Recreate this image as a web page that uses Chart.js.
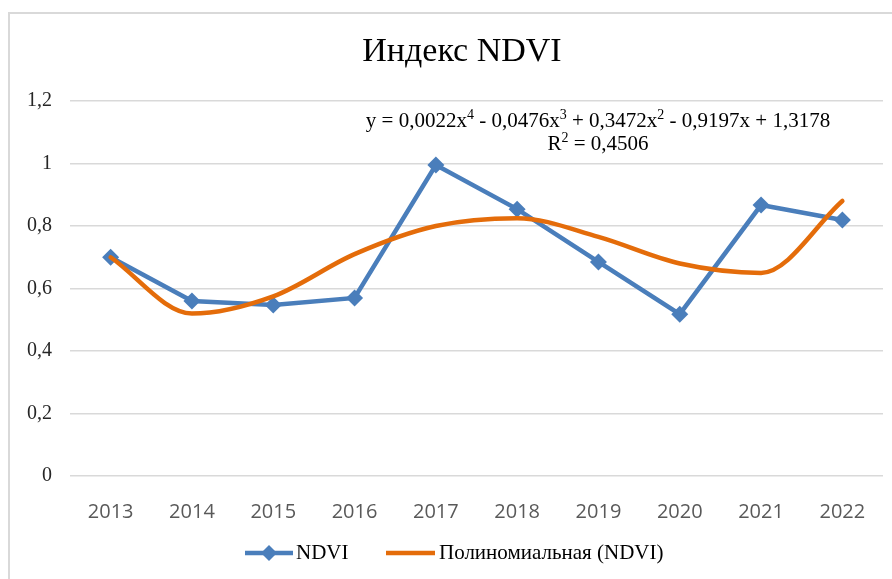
<!DOCTYPE html>
<html>
<head>
<meta charset="utf-8">
<script src="https://cdn.jsdelivr.net/npm/chart.js@4/dist/chart.umd.min.js"></script>
<style>
  html, body { margin: 0; padding: 0; background: #fff; }
  #wrap { position: relative; width: 892px; height: 579px; }
</style>
</head>
<body>
<div id="wrap"><canvas id="chart" width="892" height="579"></canvas></div>
<script>
'use strict';

// ── Data ──────────────────────────────────────────────────────
const years     = ['2013', '2014', '2015', '2016', '2017', '2018', '2019', '2020', '2021', '2022'];
const ndvi      = [0.70, 0.56, 0.547, 0.57, 0.995, 0.854, 0.685, 0.518, 0.867, 0.819];
const trendNdvi = [0.70, 0.52, 0.575, 0.71, 0.80, 0.825, 0.765, 0.68, 0.65, 0.88];
const yTicks    = [0, 0.2, 0.4, 0.6, 0.8, 1, 1.2];

const titleText = 'Индекс NDVI';
// equation pieces: [text, isSuperscript]
const eqLine1 = [['y = 0,0022x', 0], ['4', 1], [' - 0,0476x', 0], ['3', 1],
                 [' + 0,3472x', 0], ['2', 1], [' - 0,9197x + 1,3178', 0]];
const eqLine2 = [['R', 0], ['2', 1], [' = 0,4506', 0]];
const legendNames = ['NDVI', 'Полиномиальная (NDVI)'];

const BLUE   = '#4a7ebb';
const ORANGE = '#e46c0a';
const GRID   = '#d9d9d9';
const SERIF  = "'Liberation Serif', 'Times New Roman', serif";

// ── Rich text with superscripts, centred on cx ────────────────
function drawRich(ctx, parts, cx, y, size) {
  const big = size + 'px ' + SERIF;
  const small = Math.round(size * 0.65) + 'px ' + SERIF;
  let total = 0;
  parts.forEach(([t, sup]) => { ctx.font = sup ? small : big; total += ctx.measureText(t).width; });
  let x = cx - total / 2;
  ctx.textAlign = 'left';
  ctx.textBaseline = 'alphabetic';
  parts.forEach(([t, sup]) => {
    ctx.font = sup ? small : big;
    ctx.fillText(t, x, sup ? y - size * 0.38 : y);
    x += ctx.measureText(t).width;
  });
}

// ── Decorations: frame, title, equation, legend ───────────────
const decor = {
  id: 'decor',
  beforeDraw(chart) {
    const ctx = chart.ctx;
    ctx.save();
    ctx.strokeStyle = GRID;
    ctx.lineWidth = 2;
    ctx.beginPath();
    ctx.moveTo(9, 600);
    ctx.lineTo(9, 13);
    ctx.lineTo(900, 13);
    ctx.stroke();
    ctx.restore();
  },
  afterDraw(chart) {
    const ctx = chart.ctx;
    ctx.save();
    ctx.fillStyle = '#000';
    ctx.textAlign = 'center';
    ctx.textBaseline = 'middle';

    ctx.font = '34px ' + SERIF;
    ctx.fillText(titleText, 462, 52);

    drawRich(ctx, eqLine1, 598, 127, 21);
    drawRich(ctx, eqLine2, 598, 150, 21);

    // legend
    const ly = 553;
    ctx.lineWidth = 4.5;
    ctx.strokeStyle = BLUE;
    ctx.beginPath(); ctx.moveTo(245, ly); ctx.lineTo(293, ly); ctx.stroke();
    ctx.fillStyle = BLUE;
    ctx.beginPath();
    ctx.moveTo(269, ly - 8); ctx.lineTo(277, ly); ctx.lineTo(269, ly + 8); ctx.lineTo(261, ly);
    ctx.closePath(); ctx.fill();
    ctx.strokeStyle = ORANGE;
    ctx.lineWidth = 4.5;
    ctx.beginPath(); ctx.moveTo(386, ly); ctx.lineTo(435, ly); ctx.stroke();

    ctx.fillStyle = '#000';
    ctx.textAlign = 'left';
    ctx.textBaseline = 'middle';
    ctx.font = '21px ' + SERIF;
    ctx.fillText(legendNames[0], 296, ly);
    ctx.fillText(legendNames[1], 439, ly);
    ctx.restore();
  }
};

new Chart(document.getElementById('chart'), {
  type: 'line',
  data: {
    labels: years,
    datasets: [
      {
        label: legendNames[0],
        data: ndvi,
        borderColor: BLUE,
        backgroundColor: BLUE,
        borderWidth: 4.5,
        pointStyle: 'rectRot',
        pointRadius: 8.5,
        pointBorderWidth: 0,
        tension: 0,
        order: 2
      },
      {
        label: legendNames[1],
        data: trendNdvi,
        borderColor: ORANGE,
        backgroundColor: ORANGE,
        borderWidth: 4.5,
        pointRadius: 0,
        cubicInterpolationMode: 'monotone',
        borderCapStyle: 'round',
        order: 1
      }
    ]
  },
  options: {
    responsive: false,
    animation: false,
    layout: { padding: { top: 101, right: 9, bottom: 43, left: 0 } },
    plugins: {
      legend: { display: false },
      title: { display: false },
      tooltip: { enabled: false }
    },
    scales: {
      x: {
        offset: true,
        grid: { display: false },
        border: { display: false },
        ticks: {
          padding: 16,
          color: '#595959',
          font: { family: "'Open Sans', 'Liberation Sans', sans-serif", size: 20 }
        },
        afterFit(scale) { scale.height = 60; }
      },
      y: {
        min: 0,
        max: 1.2,
        afterBuildTicks(scale) { scale.ticks = yTicks.map(v => ({ value: v })); },
        grid: { color: GRID, lineWidth: 1.5, drawTicks: false },
        border: { display: false },
        ticks: {
          padding: 18,
          color: '#262626',
          font: { family: SERIF, size: 20 },
          callback: v => String(Number(v.toFixed(1))).replace('.', ',')
        },
        afterFit(scale) { scale.width = 70; }
      }
    }
  },
  plugins: [decor]
});
</script>
</body>
</html>
